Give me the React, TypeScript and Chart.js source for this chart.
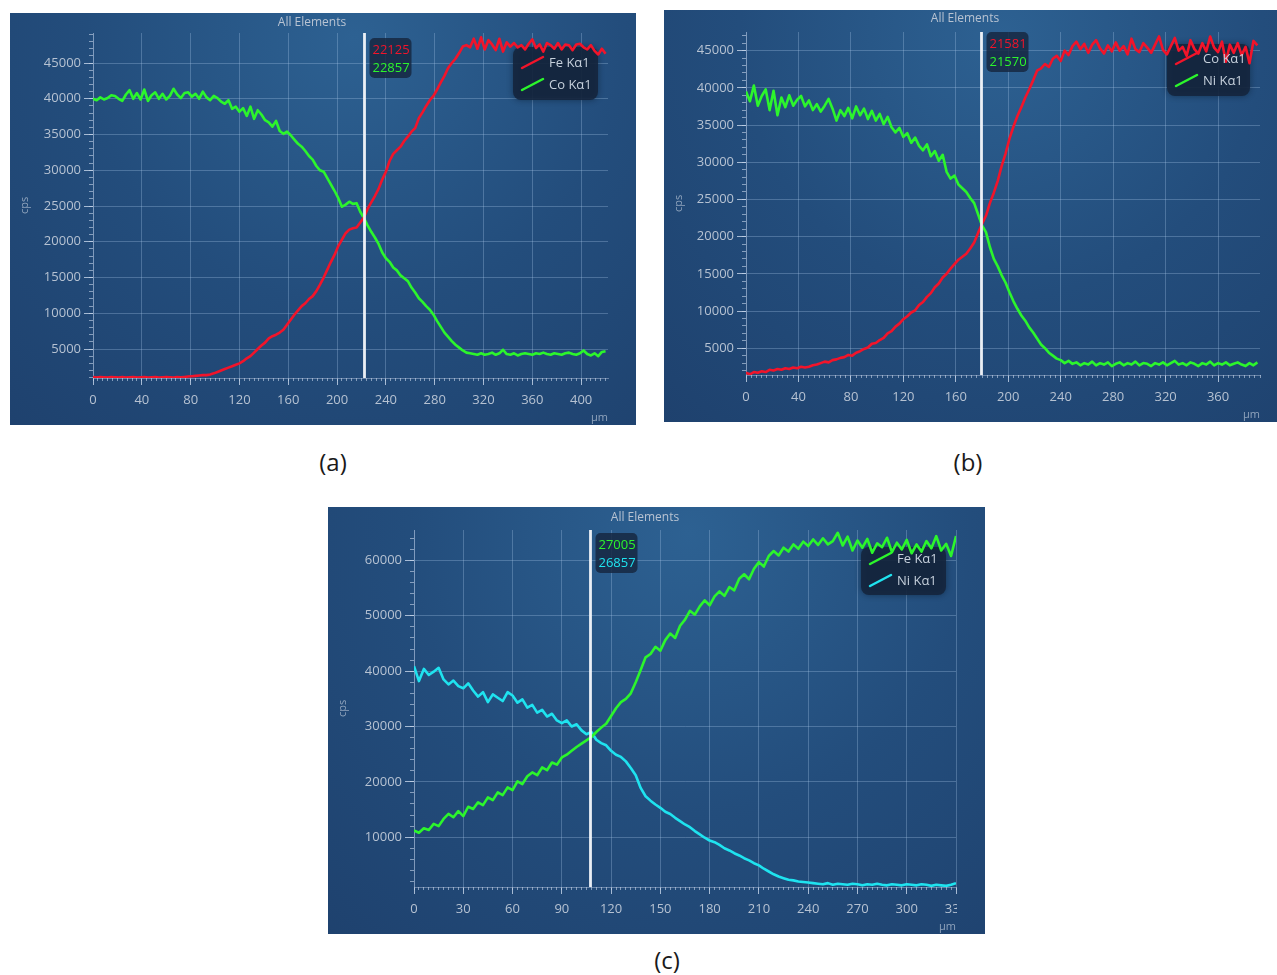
import React, { useEffect, useRef } from 'react';
import { Chart, registerables } from 'chart.js';

Chart.register(...registerables);
Chart.defaults.font.family = "'Open Sans', 'Noto Sans', sans-serif";

// ---------- DATA ----------
// (a) line scan, sampled every 3 µm from 0 to 420 µm
const A_STEP = 3;
const A_FE = [
  1100, 1000, 1100, 1050, 1000, 1100, 1050, 1000, 1100, 1000,
  1050, 1100, 1000, 1050, 1100, 1000, 1050, 1100, 1000, 1050,
  1100, 1050, 1000, 1100, 1050, 1100, 1150, 1200, 1250, 1300,
  1350, 1350, 1450, 1600, 1800, 2000, 2200, 2400, 2600, 2800,
  3000, 3300, 3700, 4000, 4500, 5000, 5500, 5900, 6500, 6800,
  7000, 7300, 7700, 8400, 9100, 9800, 10400, 11000, 11400, 12000,
  12400, 13100, 14000, 15000, 16100, 17200, 18200, 19400, 20300, 21200,
  21700, 21900, 22000, 22700, 23400, 24600, 25500, 26400, 27400, 28700,
  29800, 31300, 32300, 32800, 33300, 34100, 34700, 35400, 35900, 37300,
  38100, 39000, 39800, 40400, 41300, 42300, 43200, 44300, 45000, 45600,
  46400, 47300, 47500, 47200, 48400, 47000, 48600, 46900, 48200, 47600,
  46800, 48400, 46600, 47900, 47300, 47800, 47200, 47500, 46900, 47700,
  48300, 47100, 47600, 46600, 47800, 47500, 47000, 47800, 46900, 47600,
  47500, 46800, 47600, 47700, 47200, 46900, 47500, 46700, 46200, 47000,
  46300,
];
const A_CO = [
  40000, 39800, 40200, 39900, 40100, 40500, 40400, 40000, 39700, 40600,
  41200, 40000, 40800, 39900, 41300, 39700, 40500, 40900, 40000, 40700,
  39900, 40400, 41400, 40600, 40100, 40800, 40900, 40300, 40700, 40000,
  41000, 40200, 39800, 40400, 40100, 39600, 39300, 39800, 38600, 38900,
  38200, 38700, 37600, 38900, 37200, 38400, 37800, 37000, 36700, 36100,
  36900, 35500, 35100, 35400, 34900, 34300, 33700, 33300, 32700, 32000,
  31500, 30600, 30000, 29800, 28900, 28000, 27100, 26100, 24900, 25200,
  25600, 25300, 25400, 24200, 23300, 22300, 21400, 20600, 19700, 18500,
  17700, 17200, 16400, 16000, 15300, 14900, 14500, 13600, 12900, 12100,
  11600, 11000, 10500, 9800, 8900, 8100, 7300, 6700, 6100, 5600,
  5200, 4800, 4500, 4400, 4300, 4200, 4400, 4200, 4300, 4500,
  4200, 4400, 4900, 4300, 4200, 4400, 4100, 4300, 4400, 4300,
  4200, 4400, 4300, 4500, 4300, 4200, 4400, 4300, 4200, 4400,
  4500, 4300, 4200, 4400, 4800, 4300, 4100, 4400, 4000, 4600,
  4700,
];
const A_LABELS = ['Fe Kα1', 'Co Kα1'];
const A_CURSOR = 222;
const A_CURSOR_VALUES = ['22125', '22857'];

// (b) line scan, sampled every 3 µm from 0 to 390 µm
const B_STEP = 3;
const B_CO = [
  1700, 1500, 1800, 1700, 1900, 1800, 2100, 2000, 2200, 2100,
  2300, 2200, 2400, 2300, 2500, 2400, 2500, 2700, 2800, 3000,
  3200, 3100, 3400, 3500, 3700, 3800, 4100, 4000, 4400, 4600,
  4900, 5100, 5600, 5700, 6100, 6400, 7000, 7300, 7900, 8300,
  8900, 9300, 9800, 10100, 10800, 11200, 11900, 12400, 13200, 13700,
  14500, 15000, 15700, 16300, 16900, 17300, 17700, 18400, 19200, 20500,
  21700, 22800, 24500, 25900, 27500, 29500, 31200, 33200, 34800, 36200,
  37400, 38700, 39800, 41000, 42300, 42600, 43200, 42800, 43900, 44300,
  43600, 45000, 44400, 45600, 46200, 45200, 45900, 44700, 45800, 46400,
  45300, 44600, 45700, 44900, 46100, 45000, 45600, 44500, 46600, 45200,
  44800, 46000, 45400, 44700, 45800, 46900, 45100, 44500, 45600, 46700,
  45000, 45500, 44300, 46400, 45200, 44600, 46000, 44900, 46900, 45400,
  44800, 46200, 43500, 45800, 44700, 46000, 44400, 45500, 43300, 46300,
  45700,
];
const B_NI = [
  39500, 38200, 40300, 37600, 38900, 39800, 37000, 39600, 36300, 38700,
  37400, 39000, 37600, 38400, 38900, 37500, 38300, 37000, 37800, 36800,
  37600, 38500, 37200, 35600, 37000, 36200, 37300, 35900, 37500, 36300,
  37200, 35800, 36900, 35600, 36500, 35100, 36100, 34700, 34000, 34600,
  33400, 33900, 32600, 33300, 32200, 31600, 32400, 30800, 31500, 30200,
  31000, 28700, 27800, 28200, 27000, 26500, 26000, 25200, 24500, 23000,
  21500, 20600, 18600, 17000, 16000, 14800, 13800, 12500, 11300, 10300,
  9400, 8700, 7800, 7100, 6300, 5500, 5000, 4400, 4000, 3600,
  3400, 3000, 3300, 2900, 3100, 2700, 3000, 2800, 3200, 2700,
  3000, 2800, 3100, 2600, 2900, 3100, 2700, 3000, 2800, 3200,
  2700, 3000, 2900, 2600, 3000, 2800, 3100, 2700, 3000, 3300,
  2800, 3000, 2700, 3100, 2900, 2600, 3000, 2800, 3200, 2700,
  3000, 2800, 3100, 2700, 2900, 3100, 2800, 2600, 3000, 2700,
  3100,
];
const B_LABELS = ['Co Kα1', 'Ni Kα1'];
const B_CURSOR = 179;
const B_CURSOR_VALUES = ['21581', '21570'];

// (c) line scan, sampled every 3 µm from 0 to 330 µm
const C_STEP = 3;
const C_FE = [
  11200, 10800, 11600, 11300, 12400, 12000, 13300, 14200, 13600, 14700,
  13800, 15500, 15100, 16300, 15800, 17200, 16700, 18100, 17600, 19000,
  18500, 20100, 19600, 21000, 21700, 21200, 22600, 22100, 23500, 23100,
  24400, 24900, 25600, 26300, 26900, 27500, 28100, 29000, 29800, 30500,
  31900, 33300, 34400, 35000, 36000, 38000, 40200, 42500, 43100, 44400,
  43700, 45600, 46800, 46000, 48200, 49300, 50900, 50200, 51700, 52800,
  51900, 53500, 54400, 53600, 55200, 54600, 56700, 57500, 56600, 58500,
  59700, 58900, 60800, 61700, 60900, 62300, 61600, 62900, 62100, 63400,
  62600, 63800, 62800, 64000, 62900, 63500, 65000, 62700, 64300, 61800,
  63600, 62300, 63900, 61400, 63100, 62400, 64100, 61500, 63200, 62000,
  63700, 61300, 62900, 61600, 63500, 62200, 64400, 61800, 63000, 60800,
  64400,
];
const C_NI = [
  40900, 38200, 40400, 39300, 39900, 40600, 38500, 37600, 38300, 37300,
  36900, 37800, 36500, 35400, 36200, 34400, 35800, 35200, 34600, 36200,
  35600, 34300, 34900, 33400, 33900, 32500, 33000, 31800, 32300, 31100,
  30600, 31100, 30000, 30400, 29300, 28600, 29000, 27600, 27000, 26600,
  25600, 24900, 24500, 23700, 22500, 21200, 18900, 17400, 16600, 15900,
  15300, 14600, 14200, 13500, 12900, 12300, 11800, 11100, 10500, 9900,
  9400, 9100, 8600, 8000, 7600, 7100, 6700, 6200, 5800, 5300,
  4900, 4300, 3800, 3300, 2900, 2600, 2300, 2200, 2000, 1900,
  1800, 1700, 1600, 1500, 1700, 1400, 1600, 1500, 1400, 1600,
  1500, 1300, 1500, 1400, 1600, 1400, 1300, 1500, 1400, 1300,
  1500, 1400, 1300, 1500, 1400, 1200, 1400, 1300, 1200, 1400,
  1700,
];
const C_LABELS = ['Fe Kα1', 'Ni Kα1'];
const C_CURSOR = 107;
const C_CURSOR_VALUES = ['27005', '26857'];

const PANEL_TITLE = 'All Elements';
const Y_TITLE = 'cps';
const X_TITLE = 'µm';
const CAPTIONS = ['(a)', '(b)', '(c)'];

// ---------- STYLE ----------
const RED = '#f2142a';
const GREEN = '#2cf52c';
const CYAN = '#1fe3ef';
const GRID = 'rgba(165,195,230,0.32)';
const TICK_MAJOR = 'rgba(200,215,235,0.80)';
const TICK_MINOR = 'rgba(200,215,235,0.60)';
const AXIS = 'rgba(190,205,228,0.45)';
const LABEL = '#b6c2d2';
const DIM = '#8fa3bc';

type Series = { label: string; color: string; values: number[]; step: number };
type PanelCfg = {
  key: string;
  left: number; top: number; width: number; height: number;
  pad: { left: number; top: number; right: number; bottom: number };
  yW: number; xH: number;
  xMin: number; xMax: number; xMajor: number; xMinor: number;
  yMin: number; yMax: number; yMajor: number; yMinor: number;
  series: Series[];
  cursor: number; cursorValues: string[];
  titleX: number; titleY: number;
  legendTop: number; legendW: number; legendH: number; legendRow: number;
  valueOff: number;
  clipRight: boolean;
};

const PANELS: PanelCfg[] = [
  {
    key: 'a', left: 10, top: 13, width: 626, height: 412,
    pad: { left: 0, top: 20, right: 28, bottom: 0 }, yW: 83, xH: 47,
    xMin: 0, xMax: 422, xMajor: 40, xMinor: 4,
    yMin: 950, yMax: 49200, yMajor: 5000, yMinor: 1000,
    series: [
      { label: A_LABELS[0], color: RED, values: A_FE, step: A_STEP },
      { label: A_LABELS[1], color: GREEN, values: A_CO, step: A_STEP },
    ],
    cursor: A_CURSOR, cursorValues: A_CURSOR_VALUES,
    titleX: 302, titleY: 10,
    legendTop: 34, legendW: 85, legendH: 53, legendRow: 50,
    valueOff: 5, clipRight: false,
  },
  {
    key: 'b', left: 664, top: 10, width: 613, height: 412,
    pad: { left: 0, top: 22, right: 17, bottom: 0 }, yW: 82, xH: 47,
    xMin: 0, xMax: 392, xMajor: 40, xMinor: 4,
    yMin: 1400, yMax: 47500, yMajor: 5000, yMinor: 1000,
    series: [
      { label: B_LABELS[0], color: RED, values: B_CO, step: B_STEP },
      { label: B_LABELS[1], color: GREEN, values: B_NI, step: B_STEP },
    ],
    cursor: B_CURSOR, cursorValues: B_CURSOR_VALUES,
    titleX: 301, titleY: 9,
    legendTop: 34, legendW: 83, legendH: 52, legendRow: 49,
    valueOff: 0, clipRight: false,
  },
  {
    key: 'c', left: 328, top: 507, width: 657, height: 427,
    pad: { left: 0, top: 23, right: 29, bottom: 0 }, yW: 86, xH: 47,
    xMin: 0, xMax: 330, xMajor: 30, xMinor: 3,
    yMin: 1000, yMax: 65500, yMajor: 10000, yMinor: 2000,
    series: [
      { label: C_LABELS[0], color: GREEN, values: C_FE, step: C_STEP },
      { label: C_LABELS[1], color: CYAN, values: C_NI, step: C_STEP },
    ],
    cursor: C_CURSOR, cursorValues: C_CURSOR_VALUES,
    titleX: 317, titleY: 11,
    legendTop: 40, legendW: 85, legendH: 48, legendRow: 52,
    valueOff: 3, clipRight: true,
  },
];

function roundRect(ctx: CanvasRenderingContext2D, x: number, y: number, w: number, h: number, r: number) {
  ctx.beginPath();
  ctx.moveTo(x + r, y);
  ctx.arcTo(x + w, y, x + w, y + h, r);
  ctx.arcTo(x + w, y + h, x, y + h, r);
  ctx.arcTo(x, y + h, x, y, r);
  ctx.arcTo(x, y, x + w, y, r);
  ctx.closePath();
}

// tick values on multiples of `step` inside [min, max]
function stepTicks(min: number, max: number, step: number) {
  return (scale: any) => {
    const out: { value: number }[] = [];
    for (let v = Math.ceil(min / step) * step; v <= max + 1e-9; v += step) out.push({ value: v });
    scale.ticks = out;
  };
}

function decorPlugin(p: PanelCfg) {
  return {
    id: 'decor_' + p.key,
    beforeDraw(chart: any) {
      const { ctx, width, height } = chart;
      ctx.save();
      const cx = width * 0.55;
      const cy = height * 0.06;
      const g = ctx.createRadialGradient(cx, cy, 0, cx, cy, width * 0.95);
      g.addColorStop(0, 'rgb(45,97,146)');
      g.addColorStop(0.45, 'rgb(35,77,124)');
      g.addColorStop(1, 'rgb(29,62,106)');
      ctx.fillStyle = g;
      ctx.fillRect(0, 0, width, height);
      ctx.restore();
      if (p.clipRight) {
        ctx.save();
        ctx.beginPath();
        ctx.rect(0, 0, chart.chartArea.right + 1, height);
        ctx.clip();
      }
    },
    beforeDatasetsDraw(chart: any) {
      const { ctx, chartArea } = chart;
      const x = chartArea.right - 10 - p.legendW;
      ctx.save();
      ctx.shadowColor = 'rgba(5,15,30,0.5)';
      ctx.shadowBlur = 6;
      roundRect(ctx, x, p.legendTop, p.legendW, p.legendH, 8);
      ctx.fillStyle = 'rgba(20,36,60,0.88)';
      ctx.fill();
      ctx.restore();
    },
    afterDatasetsDraw(chart: any) {
      const { ctx, chartArea } = chart;
      ctx.save();
      // legend entries
      const lx = chartArea.right - 10 - p.legendW;
      ctx.font = "13px 'Open Sans', sans-serif";
      ctx.textBaseline = 'middle';
      ctx.textAlign = 'left';
      p.series.forEach((s, i) => {
        const ry = p.legendRow + i * 22;
        ctx.strokeStyle = s.color;
        ctx.lineWidth = 2.5;
        ctx.lineCap = 'round';
        ctx.beginPath();
        ctx.moveTo(lx + 9, ry + 5);
        ctx.lineTo(lx + 30, ry - 6);
        ctx.stroke();
        ctx.fillStyle = '#c6d0dc';
        ctx.fillText(s.label, lx + 36, ry);
      });
      // cursor line
      const xs = chart.scales.x;
      const cx = Math.round(xs.getPixelForValue(p.cursor)) + 0.5;
      ctx.strokeStyle = 'rgba(245,248,252,0.95)';
      ctx.lineWidth = 2.8;
      ctx.lineCap = 'butt';
      ctx.beginPath();
      ctx.moveTo(cx, chartArea.top);
      ctx.lineTo(cx, chartArea.bottom);
      ctx.stroke();
      // value box
      const bx = cx + 5;
      const by = chartArea.top + p.valueOff;
      roundRect(ctx, bx, by, 42, 40, 5);
      ctx.fillStyle = 'rgba(22,40,66,0.85)';
      ctx.fill();
      p.cursorValues.forEach((v, i) => {
        ctx.fillStyle = p.series[i].color;
        ctx.fillText(v, bx + 3, by + 12 + i * 18);
      });
      // panel title
      ctx.font = "12px 'Open Sans', sans-serif";
      ctx.textAlign = 'center';
      ctx.fillStyle = '#b8c3d2';
      ctx.fillText(PANEL_TITLE, p.titleX, p.titleY);
      ctx.restore();
    },
    afterDraw(chart: any) {
      if (p.clipRight) chart.ctx.restore();
    },
  };
}

function buildConfig(p: PanelCfg): any {
  const datasets = p.series.map((s) => ({
    label: s.label,
    data: s.values.map((y, i) => ({ x: i * s.step, y })),
    borderColor: s.color,
    backgroundColor: s.color,
    borderWidth: 2.6,
    borderJoinStyle: 'round',
    pointRadius: 0,
    tension: 0,
    xAxisID: 'x',
    yAxisID: 'y',
  }));
  const tickFont = { family: "'Open Sans', sans-serif", size: 13 };
  const titleFont = { family: "'Open Sans', sans-serif", size: 11 };
  return {
    type: 'line',
    data: { datasets },
    options: {
      responsive: false,
      animation: false,
      events: [],
      layout: { padding: p.pad },
      plugins: { legend: { display: false }, title: { display: false }, tooltip: { enabled: false } },
      scales: {
        xm: {
          type: 'linear', position: 'bottom', weight: 0,
          min: p.xMin, max: p.xMax,
          afterBuildTicks: stepTicks(p.xMin, p.xMax, p.xMinor),
          ticks: { display: false, autoSkip: false },
          grid: { drawOnChartArea: false, drawTicks: true, tickLength: 3, tickColor: TICK_MINOR, tickWidth: 1 },
          border: { display: false },
          afterFit: (s: any) => { s.height = 0; },
        },
        x: {
          type: 'linear', position: 'bottom', weight: 1,
          min: p.xMin, max: p.xMax,
          afterBuildTicks: stepTicks(p.xMin, p.xMax, p.xMajor),
          ticks: {
            autoSkip: false, maxRotation: 0,
            color: LABEL, font: tickFont, padding: 7,
            callback: (v: number) => String(v),
          },
          grid: { color: GRID, lineWidth: 1, tickLength: 7, tickColor: TICK_MAJOR, tickWidth: 1 },
          border: { display: true, color: AXIS, width: 1 },
          title: { display: true, text: X_TITLE, align: 'end', color: DIM, font: titleFont, padding: { top: 0, bottom: 1 } },
          afterFit: (s: any) => { s.height = p.xH; },
        },
        ym: {
          type: 'linear', position: 'left', weight: 0,
          min: p.yMin, max: p.yMax,
          afterBuildTicks: stepTicks(p.yMin, p.yMax, p.yMinor),
          ticks: { display: false, autoSkip: false },
          grid: { drawOnChartArea: false, drawTicks: true, tickLength: 4, tickColor: TICK_MINOR, tickWidth: 1 },
          border: { display: false },
          afterFit: (s: any) => { s.width = 0; },
        },
        y: {
          type: 'linear', position: 'left', weight: 1,
          min: p.yMin, max: p.yMax,
          afterBuildTicks: stepTicks(p.yMin, p.yMax, p.yMajor),
          ticks: {
            autoSkip: false,
            color: LABEL, font: tickFont, padding: 3,
            callback: (v: number) => String(v),
          },
          grid: { color: GRID, lineWidth: 1, tickLength: 9, tickColor: TICK_MAJOR, tickWidth: 1 },
          border: { display: true, color: AXIS, width: 1 },
          title: { display: true, text: Y_TITLE, color: DIM, font: titleFont, padding: { top: 8, bottom: 0 } },
          afterFit: (s: any) => { s.width = p.yW; },
        },
      },
    },
    plugins: [decorPlugin(p)],
  };
}

function Panel({ p }: { p: PanelCfg }) {
  const ref = useRef<HTMLCanvasElement | null>(null);
  useEffect(() => {
    if (!ref.current) return;
    const chart = new Chart(ref.current, buildConfig(p));
    return () => chart.destroy();
  }, [p]);
  return (
    <canvas
      ref={ref}
      width={p.width}
      height={p.height}
      style={{ position: 'absolute', left: p.left, top: p.top, width: p.width, height: p.height, display: 'block' }}
    />
  );
}

const CAPTION_POS = [
  { x: 333, y: 462 },
  { x: 968, y: 462 },
  { x: 667, y: 960 },
];

export default function App() {
  return (
    <div style={{ position: 'absolute', left: 0, top: 0, width: 1277, height: 975, background: '#ffffff', overflow: 'hidden' }}>
      {PANELS.map((p) => (
        <Panel key={p.key} p={p} />
      ))}
      {CAPTIONS.map((c, i) => (
        <div
          key={c}
          style={{
            position: 'absolute',
            left: CAPTION_POS[i].x,
            top: CAPTION_POS[i].y,
            transform: 'translate(-50%, -50%)',
            fontFamily: "'Open Sans', sans-serif",
            fontSize: 24,
            lineHeight: 1,
            color: '#1a1a1a',
          }}
        >
          {c}
        </div>
      ))}
    </div>
  );
}
